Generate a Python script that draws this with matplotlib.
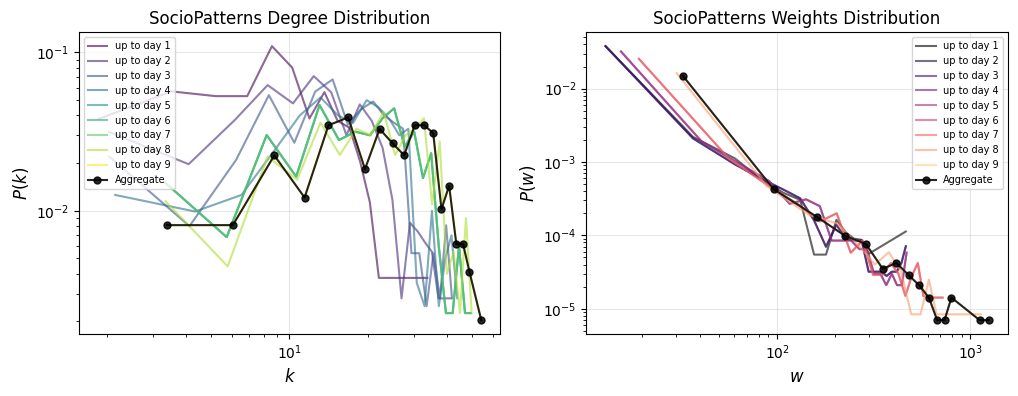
import numpy as np
import matplotlib
matplotlib.use("Agg")
import matplotlib.pyplot as plt

# ---- degree distribution (left), bin centres k and density P(k) ----
deg_k_day1 = [1.85, 3.53, 5.21, 6.89, 8.57, 10.25, 11.93, 13.61, 15.29, 16.97, 18.65, 20.33, 22.01, 33.77]
deg_p_day1 = [0.0379, 0.0568, 0.053, 0.053, 0.1096, 0.0802, 0.0383, 0.0562, 0.037, 0.0335, 0.0205, 0.0113, 0.00377, 0.00377]

deg_k_day2 = [2.04, 4.11, 6.18, 8.25, 10.32, 12.39, 14.46, 16.53, 18.6, 20.67, 22.74, 24.81, 26.88, 28.95,
              31.02, 33.09, 35.16, 37.23, 41.37]
deg_p_day2 = [0.0315, 0.0197, 0.0375, 0.0622, 0.0477, 0.0709, 0.056, 0.030, 0.047, 0.037, 0.025, 0.0117, 0.0028, 0.0084,
              0.0074, 0.0063, 0.0055, 0.0028, 0.0028]

deg_k_day3 = [2.04, 4.14, 6.24, 8.34, 10.44, 12.54, 14.64, 16.74, 18.84, 20.94, 23.04, 25.14, 27.24, 29.34,
              31.44, 33.54, 35.64, 37.74, 39.84, 41.94]
deg_p_day3 = [0.0220, 0.0080, 0.0209, 0.0538, 0.0269, 0.0565, 0.0676, 0.035, 0.044, 0.049, 0.040, 0.036, 0.033, 0.0054,
              0.0054, 0.0025, 0.0054, 0.0028, 0.0081, 0.0028]

deg_k_day4 = [2.15, 4.35, 6.55, 8.75, 10.95, 13.15, 15.35, 17.55, 19.75, 21.95, 24.15, 26.35, 28.55, 30.75,
              32.95, 35.15, 37.35, 39.55, 41.75, 43.95]
deg_p_day4 = [0.0126, 0.0099, 0.0126, 0.024, 0.040, 0.052, 0.040, 0.036, 0.050, 0.045, 0.038, 0.030, 0.033, 0.0035,
              0.0025, 0.0100, 0.0025, 0.0050, 0.0070, 0.0028]

# days 5-7 sit on top of each other
deg_k_day5 = [3.32, 5.75, 8.18, 10.61, 13.04, 15.47, 17.9, 20.33, 22.76, 25.19, 27.62, 30.05, 32.48, 34.91,
              37.34, 39.77, 42.2, 44.63, 47.06, 49.49]
deg_p_day5 = [0.0152, 0.00682, 0.0301, 0.01644, 0.0466, 0.028, 0.0316, 0.030, 0.0385, 0.0444, 0.0254, 0.0316, 0.0161,
              0.0231, 0.00596, 0.00226, 0.00226, 0.0060, 0.00226, 0.00226]
deg_k_day6, deg_p_day6 = deg_k_day5, deg_p_day5
deg_k_day7, deg_p_day7 = deg_k_day5, deg_p_day5

deg_k_day8 = [3.35, 5.80, 8.25, 10.70, 13.15, 15.6, 18.05, 20.5, 22.95, 25.4, 27.85, 30.3, 32.75, 35.2,
              37.65, 40.1, 42.55, 45.0, 47.45, 49.9]
deg_p_day8 = [0.0115, 0.00446, 0.0220, 0.0157, 0.0360, 0.0225, 0.033, 0.030, 0.0423, 0.0225, 0.030, 0.033, 0.0384,
              0.011, 0.0274, 0.0040, 0.0055, 0.00226, 0.0090, 0.00226]

deg_k_agg = [3.39, 6.07, 8.75, 11.43, 14.11, 16.79, 19.47, 22.15, 24.83, 27.51, 30.19, 32.87, 35.55, 38.23,
             40.91, 43.59, 46.27, 48.95, 54.31]
deg_p_agg = [0.00812, 0.00812, 0.0224, 0.01213, 0.0347, 0.0389, 0.01833, 0.0329, 0.0267, 0.0224, 0.0347, 0.0347,
             0.0309, 0.01026, 0.0144, 0.00616, 0.00616, 0.00411, 0.00204]
deg_k_day9, deg_p_day9 = deg_k_agg, deg_p_agg

# ---- weights distribution (right), bin centres w and density P(w) ----
w_day1 = [12.9, 36.6, 60.3, 84.0, 107.7, 131.4, 155.1, 178.8, 202.5, 226.2, 249.9, 273.6, 297.3, 463.2]
pw_day1 = [0.0379, 2.2e-3, 1.12e-3, 5.6e-4, 3.8e-4, 3.05e-4, 5.47e-5, 5.47e-5, 1.63e-4, 1.1e-4, 9e-5, 8.7e-5,
           5.6e-5, 1.13e-4]

w_day2 = [12.9, 36.6, 60.3, 84.0, 107.7, 131.4, 155.1, 178.8, 202.5, 226.2, 249.9, 273.6, 297.3, 321.0,
          344.7, 368.4, 392.1, 415.8, 439.5, 463.2]
pw_day2 = [0.0379, 2.1e-3, 9.3e-4, 5.8e-4, 4.2e-4, 3.2e-4, 1.6e-4, 7e-5, 1.4e-4, 9e-5, 8.5e-5, 8.5e-5, 3.2e-5,
           3.2e-5, 3.2e-5, 2.8e-5, 3.2e-5, 3.2e-5, 4.2e-5, 7.1e-5]
w_day3, pw_day3 = w_day2, pw_day2

w_day4 = [15.5, 40.6, 65.7, 90.8, 115.9, 141.0, 166.1, 191.2, 216.3, 241.4, 266.5, 291.6, 316.7, 341.8,
          366.9, 392.0, 417.1, 442.2, 467.3]
pw_day4 = [0.0321, 1.9e-3, 9.0e-4, 5.5e-4, 2.7e-4, 3.1e-4, 2.5e-4, 8.5e-5, 8.5e-5, 8.5e-5, 6.5e-5, 6.5e-5, 3.0e-5,
           3.0e-5, 2.1e-5, 3.0e-5, 2.1e-5, 2.1e-5, 5.8e-5]
w_day5, pw_day5 = w_day4, pw_day4

w_day6 = [19.2, 56.0, 92.8, 129.6, 166.4, 203.2, 240.0, 276.8, 313.6, 350.4, 387.2, 424.0, 460.8, 497.6,
          534.4, 571.2, 608.0, 718.4]
pw_day6 = [0.0255, 1.12e-3, 4.5e-4, 2.6e-4, 1.55e-4, 2.0e-4, 5.8e-5, 8.5e-5, 2.9e-5, 2.9e-5, 4.2e-5, 3.0e-5,
           1.5e-5, 2.8e-5, 4.2e-5, 1.5e-5, 1.42e-5, 1.42e-5]
w_day7, pw_day7 = w_day6, pw_day6

w_day8 = [30.1, 88.1, 146.1, 204.1, 262.1, 320.1, 378.1, 436.1, 494.1, 552.1, 610.1, 668.1, 1132.1]
pw_day8 = [0.0163, 4.7e-4, 1.9e-4, 1.45e-4, 7.5e-5, 4.0e-5, 5.9e-5, 3.3e-5, 8.4e-6, 8.4e-6, 2.5e-5, 8.4e-6, 8.4e-6]

w_agg = [32.4, 95.8, 160.7, 224, 287.6, 351.9, 414, 481, 542, 610, 673, 735, 798, 1117, 1244]
pw_agg = [0.0150, 4.26e-4, 1.78e-4, 9.9e-5, 7.64e-5, 3.50e-5, 4.22e-5, 2.84e-5, 2.10e-5, 1.42e-5, 7.0e-6, 7.0e-6,
          1.42e-5, 7.0e-6, 7.0e-6]
w_day9, pw_day9 = w_agg, pw_agg

deg_days = [(deg_k_day1, deg_p_day1), (deg_k_day2, deg_p_day2), (deg_k_day3, deg_p_day3),
            (deg_k_day4, deg_p_day4), (deg_k_day5, deg_p_day5), (deg_k_day6, deg_p_day6),
            (deg_k_day7, deg_p_day7), (deg_k_day8, deg_p_day8), (deg_k_day9, deg_p_day9)]
w_days = [(w_day1, pw_day1), (w_day2, pw_day2), (w_day3, pw_day3), (w_day4, pw_day4), (w_day5, pw_day5),
          (w_day6, pw_day6), (w_day7, pw_day7), (w_day8, pw_day8), (w_day9, pw_day9)]


def draw_panel(ax, days, agg_x, agg_y, cmap_colors, title, xlabel, ylabel, legend_loc):
    for i, (x, y) in enumerate(days):
        ax.plot(x, y, color=cmap_colors[i], alpha=0.6, lw=1.5, label=f'up to day {i + 1}')
    ax.plot(agg_x, agg_y, 'o-', color='black', alpha=0.85, lw=1.5, markersize=5, label='Aggregate')
    ax.set_xscale('log')
    ax.set_yscale('log')
    ax.set_title(title, fontsize=12)
    ax.set_xlabel(xlabel, fontsize=12)
    ax.set_ylabel(ylabel, fontsize=12)
    ax.grid(True, alpha=0.3)
    ax.legend(fontsize=7, loc=legend_loc)


fig, (ax1, ax2) = plt.subplots(1, 2, figsize=(10.18, 3.96), dpi=100)
plt.subplots_adjust(left=0.0776, right=0.990, top=0.918, bottom=0.157, wspace=0.204)

draw_panel(ax1, deg_days, deg_k_agg, deg_p_agg, plt.cm.viridis(np.linspace(0, 1, 9)),
           'SocioPatterns Degree Distribution', '$k$', '$P(k)$', 'upper left')
draw_panel(ax2, w_days, w_agg, pw_agg, plt.cm.magma(np.linspace(0, 0.9, 9)),
           'SocioPatterns Weights Distribution', '$w$', '$P(w)$', 'upper right')

plt.savefig('out.png', dpi=100)
plt.close()
